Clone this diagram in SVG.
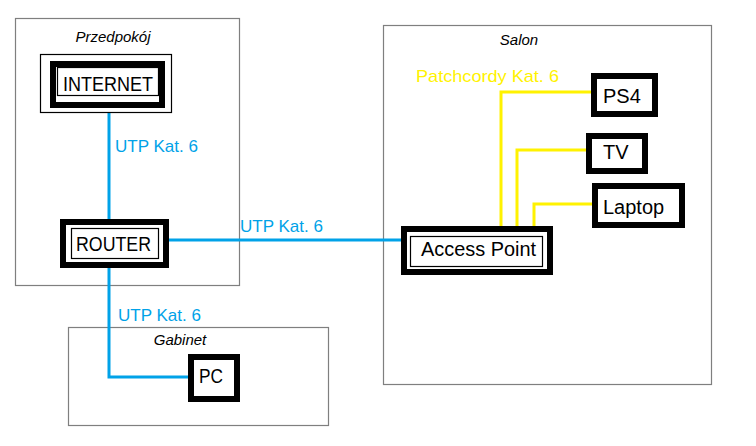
<svg xmlns="http://www.w3.org/2000/svg" width="756" height="446" viewBox="0 0 756 446">
<style>
.room{fill:#fff;stroke:#7f7f7f;stroke-width:1.2}
.rl{font-family:"Liberation Sans",Arial,sans-serif;font-style:italic;font-size:15px;fill:#000}
.thick{fill:#fff;stroke:#000;stroke-width:6}
.thin{fill:none;stroke:#000;stroke-width:1.2}
.lbl{font-family:"Liberation Sans",Arial,sans-serif;font-size:20px;fill:#000}
.blue{fill:none;stroke:#00a2e8;stroke-width:3}
.yel{fill:none;stroke:#fff200;stroke-width:3}
.bt{font-family:"Liberation Sans",Arial,sans-serif;font-size:17px;fill:#00a2e8}
.yt{font-family:"Liberation Sans",Arial,sans-serif;font-size:17px;fill:#fff200}
</style>
<rect width="756" height="446" fill="#fff"/>
<g id="rooms">
<g id="przedpokoj"><rect class="room" x="15.5" y="18.5" width="224" height="267"/><text class="rl" x="113" y="42" text-anchor="middle">Przedpokój</text></g>
<g id="salon"><rect class="room" x="383.5" y="25.5" width="328" height="359"/><text class="rl" x="519" y="45" text-anchor="middle">Salon</text></g>
<g id="gabinet"><rect class="room" x="68.5" y="327.5" width="260" height="98"/><text class="rl" x="180" y="345" text-anchor="middle">Gabinet</text></g>
</g>
<g id="connectors">
<path class="blue" d="M109 113V219"/>
<path class="blue" d="M169 240H401"/>
<path class="blue" d="M109 268V377H188"/>
<path class="yel" d="M501 226V92H591"/>
<path class="yel" d="M517 226V150H586"/>
<path class="yel" d="M534 226V204H592"/>
<text class="bt" x="115" y="152" textLength="83" lengthAdjust="spacingAndGlyphs">UTP Kat. 6</text>
<text class="bt" x="240" y="232" textLength="83" lengthAdjust="spacingAndGlyphs">UTP Kat. 6</text>
<text class="bt" x="118" y="321" textLength="83" lengthAdjust="spacingAndGlyphs">UTP Kat. 6</text>
<text class="yt" x="416" y="82" textLength="143" lengthAdjust="spacingAndGlyphs">Patchcordy Kat. 6</text>
</g>
<g id="internet">
<rect class="thin" x="40.5" y="54.5" width="131" height="58"/>
<rect class="thick" x="53" y="64" width="109" height="41"/>
<rect class="thin" x="57.5" y="67.5" width="101" height="28"/>
<text class="lbl" x="108" y="91" text-anchor="middle" font-size="22" textLength="90" lengthAdjust="spacingAndGlyphs">INTERNET</text>
</g>
<g id="router">
<rect class="thick" x="63" y="222" width="103" height="43"/>
<rect class="thin" x="71.5" y="228.5" width="87" height="30"/>
<text class="lbl" x="113.5" y="251" text-anchor="middle" font-size="21" textLength="75" lengthAdjust="spacingAndGlyphs">ROUTER</text>
</g>
<g id="pc">
<rect class="thick" x="191" y="357" width="46" height="42"/>
<text class="lbl" x="199" y="383" font-size="21" textLength="24" lengthAdjust="spacingAndGlyphs">PC</text>
</g>
<g id="access-point">
<rect class="thick" x="404" y="229" width="146" height="43"/>
<rect class="thin" x="410.5" y="236.5" width="132" height="30"/>
<text class="lbl" x="421" y="256" textLength="115" lengthAdjust="spacingAndGlyphs">Access Point</text>
</g>
<g id="ps4">
<rect class="thick" x="594" y="76" width="61" height="38"/>
<text class="lbl" x="603" y="103">PS4</text>
</g>
<g id="tv">
<rect class="thick" x="589" y="136" width="56" height="35"/>
<text class="lbl" x="603" y="159">TV</text>
</g>
<g id="laptop">
<rect class="thick" x="595" y="186" width="87" height="39"/>
<text class="lbl" x="603" y="214">Laptop</text>
</g>
</svg>
